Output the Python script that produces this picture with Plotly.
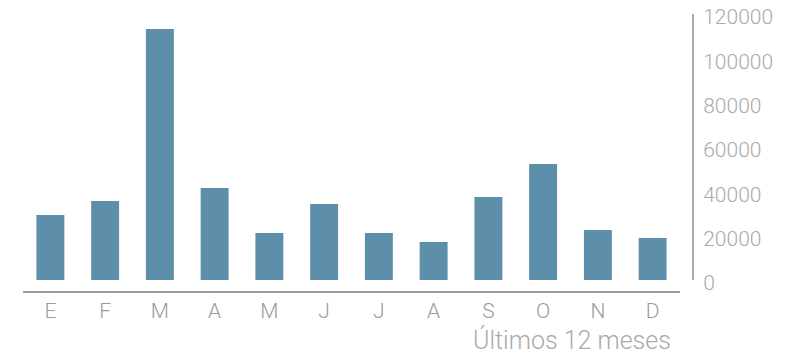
import plotly.graph_objects as go

# monthly values, last 12 months
months = ['E', 'F', 'M', 'A', 'M', 'J', 'J', 'A', 'S', 'O', 'N', 'D']
values = [29300, 35600, 113200, 41500, 21200, 34300, 21200, 17100, 37400, 52300, 22600, 18900]
y_ticks = [0, 20000, 40000, 60000, 80000, 100000, 120000]

bar_color = '#5e8faa'
font_family = 'Helvetica Neue, Roboto, Liberation Sans, Arial, sans-serif'

# positional x so repeated month letters stay separate bars
x_pos = list(range(len(months)))

fig = go.Figure(go.Bar(x=x_pos, y=values, marker=dict(color=bar_color, line=dict(width=0)),
                       hoverinfo='y'))

# page body has an 8px margin, so the figure is 8px smaller each way
fig.update_layout(
    width=790, height=347,
    margin=dict(l=15, r=105, t=6, b=63, autoexpand=False),
    paper_bgcolor='white', plot_bgcolor='white',
    showlegend=False,
    bargap=0.49,
    font=dict(family=font_family, color='#aaaaaa', weight=300),
    xaxis=dict(
        domain=[0, 0.9806],
        range=[-0.5, 11.5],
        tickmode='array', tickvals=x_pos, ticktext=months,
        showline=True, linecolor='#9a9a9a', linewidth=2,
        showgrid=False, zeroline=False, ticks='', ticklen=0,
        tickfont=dict(size=21, color='#9a9a9a', family=font_family, weight=300),
        anchor='free', position=0, automargin=False,
    ),
    yaxis=dict(
        domain=[0.0432, 1],
        range=[0, 120000],
        side='right', anchor='free', position=1,
        tickvals=y_ticks, tickformat='d',
        showline=True, linecolor='#aaaaaa', linewidth=2,
        showgrid=False, zeroline=False, ticks='',
        tickfont=dict(size=21, color='#aaaaaa', family=font_family, weight=300),
        ticklabelstandoff=5, automargin=False,
        ticklabeloverflow='allow', ticklabelshift=3,
    ),
    annotations=[dict(
        text='Últimos 12 meses', xref='paper', yref='paper',
        x=(673 - 23) / 670, y=-0.173, xanchor='right', yanchor='middle',
        showarrow=False,
        font=dict(size=25, color='#aaaaaa', family=font_family, weight=300),
    )],
)

fig.write_html('out.html')
